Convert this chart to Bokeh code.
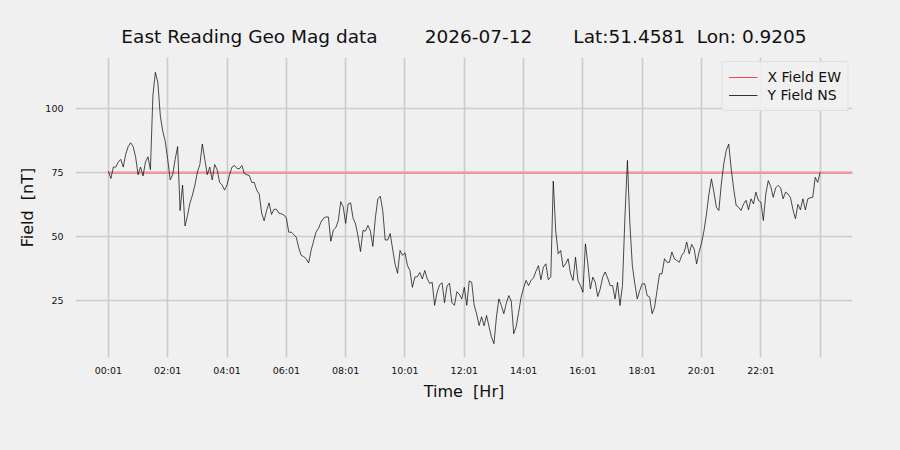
import numpy as np
from bokeh.plotting import figure
from bokeh.models import Range1d, FixedTicker, Legend, LegendItem
from bokeh.embed import file_html
from bokeh.resources import INLINE

# ---- data ----
NB = "\u00a0"
title_text = ("East Reading Geo Mag data" + NB * 8 + "2026-07-12" + NB * 7 +
              "Lat:51.4581" + NB * 2 + "Lon: 0.9205")
step_min = 5  # minutes between samples
y_field_ns = [
    # 00:00 - 02:00
    75.4, 72.5, 77, 77, 79, 80, 77, 82, 85, 86.5, 85, 81, 74, 77, 73.5, 79, 81, 76, 105, 114, 110, 97, 91, 87, 80,
    # 02:05 - 04:00
    72, 74, 80, 85, 60, 70, 54, 58, 63, 66, 70, 75, 78, 86, 80, 74, 77, 72, 78, 76, 71, 70, 68, 70,
    # 04:05 - 12:25
    74, 77, 77.6, 76.5, 76.3, 77.6, 74.5, 74, 73.7, 71,
    71, 68, 66.5, 59, 56, 60, 63, 58.5, 60.5, 60.5,
    59, 58.7, 58.3, 57, 51.5, 51.6, 50.6, 49.6, 45.5, 42.5,
    42, 41.2, 39.5, 44.4, 48, 51.6, 53, 55.5, 57, 57.5,
    57.5, 48, 52.4, 53.3, 56, 63.5, 61.5, 55, 62.6, 63,
    57, 54.8, 50, 44, 52.2, 52, 54.2, 52, 46, 57,
    64.5, 65.6, 60, 48.5, 48.5, 51, 45, 39, 35.5, 44.4,
    42.5, 43.5, 38.5, 36.6, 30, 34, 34.2, 35.8, 33.3, 36.6,
    33.4, 31.5, 32, 23, 28, 31, 31.8, 24, 30.5, 31.6,
    24, 23, 28.3, 27.3, 25.5, 30, 23, 32.5, 32, 23,
    19.6,
    # 12:30 - 24:00
    15.1, 18.5, 15, 19, 14.7, 10.6, 8, 18.4, 25.5, 22.9,
    19.7, 23.8, 26.8, 24.6, 11.9, 14.7, 20.3, 26.2, 29.8, 32.7,
    30.7, 32.7, 33.7, 36.3, 38.5, 33, 37.9, 39.2, 33, 34,
    71.5, 52, 43.1, 44.4, 37.9, 39.2, 41.2, 35.3, 32.7, 41.8,
    32.7, 30.7, 28.1, 47, 39.2, 29.4, 34, 32, 26.4, 29.4,
    34, 36, 33.7, 30.7, 30.7, 25.5, 32, 22.9, 30.7, 57.4,
    79.6, 54.8, 38.5, 31.4, 25.5, 28.8, 31.4, 31.4, 26.8, 26.2,
    19.7, 22.3, 28.8, 35.3, 35.3, 41.2, 39.8, 39.8, 43.8, 41.2,
    40.5, 39.8, 42.5, 43.8, 47.7, 43.1, 46.8, 45, 39.2, 43.8,
    47.3, 52.2, 58.7, 66.5, 72.4, 67.2, 61.3, 60, 70.4, 78.3,
    83.5, 86, 76.3, 68.5, 62, 61.3, 60, 62.6, 64, 60.3,
    64.6, 62.6, 67.2, 64, 63.3, 56.1, 66.5, 71.7, 69.4, 65.2,
    68.9, 69.8, 68.9, 64.6, 67.2, 66.5, 65, 60.3, 56.8, 62.4,
    60.3, 64.6, 60.3, 64.6, 65, 65.2, 73, 71, 75,
]
y_hours = [i * step_min / 60.0 for i in range(len(y_field_ns))]
x_field_hours = [0.0, 25.1]
x_field_ew = [74.8, 74.8]
tick_hours = [0, 2, 4, 6, 8, 10, 12, 14, 16, 18, 20, 22, 24]
tick_labels = ["00:01", "02:01", "04:01", "06:01", "08:01", "10:01", "12:01",
               "14:01", "16:01", "18:01", "20:01", "22:01", ""]
y_ticks = [25, 50, 75, 100]

BG = "#f0f0f0"
FONT = "DejaVu Sans"

p = figure(width=900, height=450, output_backend="svg", toolbar_location=None,
           x_range=Range1d(-1.11, 25.09), y_range=Range1d(2.6, 119.8),
           min_border_left=75, min_border_right=48, min_border_top=57, min_border_bottom=93,
           frame_width=777, frame_height=300,
           background_fill_color=BG, border_fill_color=BG, outline_line_color=None)

try:
    from bokeh.models import GlobalInlineStyleSheet
    p.stylesheets = [GlobalInlineStyleSheet(
        css="html, body { margin: 0 !important; padding: 0 !important; background: #f0f0f0; }")]
except Exception:
    pass

p.title.text = title_text
p.title.align = "center"
p.title.text_font = FONT
p.title.text_font_size = "18.5px"
p.title.text_font_style = "normal"
p.title.text_color = "#111111"
p.title.standoff = 21

p.xaxis.ticker = FixedTicker(ticks=tick_hours)
p.xaxis.major_label_overrides = {t: l for t, l in zip(tick_hours, tick_labels)}
p.yaxis.ticker = FixedTicker(ticks=y_ticks)

for ax in (p.xaxis[0], p.yaxis[0]):
    ax.axis_line_color = None
    ax.major_tick_line_color = None
    ax.minor_tick_line_color = None
    ax.major_tick_in = 0
    ax.major_tick_out = 0
    ax.major_label_text_font = FONT
    ax.major_label_text_font_size = "9.5px"
    ax.major_label_text_color = "#111111"
    ax.axis_label_text_font = FONT
    ax.axis_label_text_font_size = "16px"
    ax.axis_label_text_font_style = "normal"
    ax.axis_label_text_color = "#111111"

p.xaxis.axis_label = "Time" + NB * 2 + "[Hr]"
p.yaxis.axis_label = "Field" + NB * 2 + "[nT]"
p.xaxis.major_label_standoff = 7
p.yaxis.major_label_standoff = 12
p.xaxis.axis_label_standoff = 3
p.yaxis.axis_label_standoff = 5

p.grid.grid_line_color = "#cbcbcb"
p.grid.grid_line_width = 1.6

rx = p.line(x_field_hours, x_field_ew, line_color="#e99a9a", line_width=2.4)
ry = p.line(y_hours, y_field_ns, line_color="black", line_width=0.7)

# legend swatches (no visible data)
nan2 = [np.nan, np.nan]
lx = p.line(x=nan2, y=nan2, line_color="#ff4040", line_width=1.2)
ly = p.line(x=nan2, y=nan2, line_color="#333333", line_width=1.2)

legend = Legend(items=[LegendItem(label="X Field EW", renderers=[lx]),
                       LegendItem(label="Y Field NS", renderers=[ly])],
                location="top_right")
legend.margin = 4
legend.padding = 6
legend.spacing = 0
legend.label_height = 18
legend.glyph_height = 18
legend.glyph_width = 29
legend.label_standoff = 10
legend.label_text_font = FONT
legend.label_text_font_size = "14px"
legend.label_text_color = "#111111"
legend.background_fill_color = BG
legend.background_fill_alpha = 0.9
legend.border_line_color = "#d0d0d0"
legend.border_line_width = 1
p.add_layout(legend)

open("out.html", "w").write(file_html(p, INLINE))
